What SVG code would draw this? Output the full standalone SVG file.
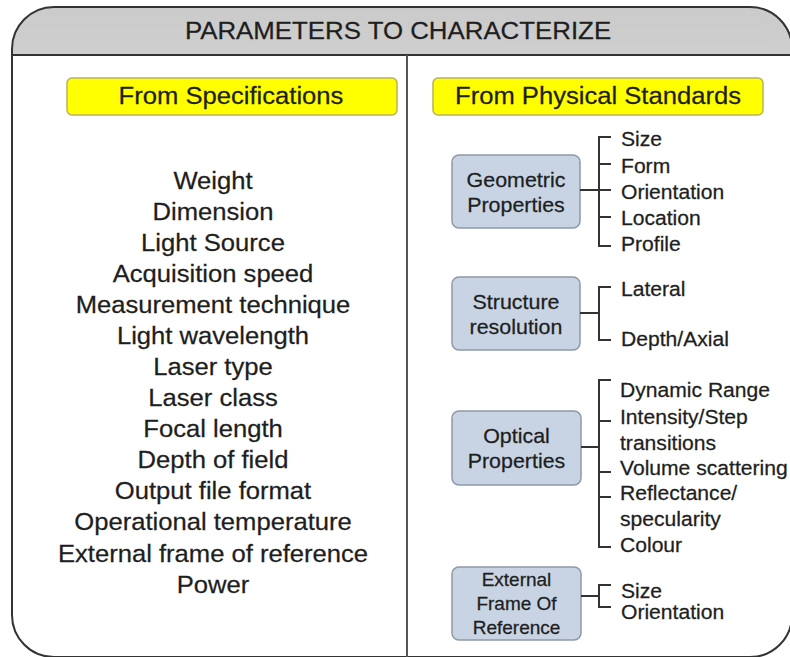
<svg xmlns="http://www.w3.org/2000/svg" width="790" height="657" viewBox="0 0 790 657">
<defs>
<linearGradient id="hdr" x1="0" y1="0" x2="0" y2="1">
<stop offset="0" stop-color="#cbcbcb"/>
<stop offset="1" stop-color="#f6f6f6"/>
</linearGradient>
<clipPath id="hclip"><rect x="12" y="7" width="780" height="48"/></clipPath>
</defs>
<style>
text{font-family:"Liberation Sans",Arial,Helvetica,sans-serif;fill:#1e1e1e;stroke:#1e1e1e;stroke-width:0.25}
.t{font-size:24.6px;text-anchor:middle}
.l{font-size:24.4px;text-anchor:middle}
.y{font-size:24.4px;text-anchor:middle}
.b{font-size:20.4px;text-anchor:middle}
.bs{font-size:18.1px;text-anchor:middle}
.i{font-size:20.1px}
.yel{fill:#ffff00;stroke:#b9b25a;stroke-width:1.5}
.blu{fill:#c8d4e3;stroke:#8d99a8;stroke-width:1.5}
.c{fill:none;stroke:#333;stroke-width:2}
</style>
<rect width="790" height="657" fill="#ffffff"/>
<g id="frame">
<rect x="12" y="7" width="780" height="650" rx="42" ry="42" fill="url(#hdr)" clip-path="url(#hclip)"/>
<rect x="12" y="7" width="780" height="650" rx="42" ry="42" fill="none" stroke="#333" stroke-width="2"/>
<line x1="12" y1="55" x2="792" y2="55" stroke="#333" stroke-width="2"/>
<line x1="407" y1="55" x2="407" y2="657" stroke="#555" stroke-width="2"/>
</g>
<g id="title">
<text class="t" transform="translate(398 38.5) scale(1.05 1)">PARAMETERS TO CHARACTERIZE</text>
</g>
<g id="from-specifications">
<rect class="yel" x="67" y="78" width="330" height="37" rx="5"/>
<text class="y" transform="translate(231 103.5) scale(1.05 1)">From Specifications</text>
</g>
<g id="spec-list">
<text class="l" transform="translate(213 188.5) scale(1.05 1)">Weight</text>
<text class="l" transform="translate(213 219.6) scale(1.05 1)">Dimension</text>
<text class="l" transform="translate(213 250.7) scale(1.05 1)">Light Source</text>
<text class="l" transform="translate(213 281.7) scale(1.05 1)">Acquisition speed</text>
<text class="l" transform="translate(213 312.8) scale(1.05 1)">Measurement technique</text>
<text class="l" transform="translate(213 343.9) scale(1.05 1)">Light wavelength</text>
<text class="l" transform="translate(213 375) scale(1.05 1)">Laser type</text>
<text class="l" transform="translate(213 406.1) scale(1.05 1)">Laser class</text>
<text class="l" transform="translate(213 437.1) scale(1.05 1)">Focal length</text>
<text class="l" transform="translate(213 468.2) scale(1.05 1)">Depth of field</text>
<text class="l" transform="translate(213 499.3) scale(1.05 1)">Output file format</text>
<text class="l" transform="translate(213 530.4) scale(1.05 1)">Operational temperature</text>
<text class="l" transform="translate(213 561.5) scale(1.05 1)">External frame of reference</text>
<text class="l" transform="translate(213 592.5) scale(1.05 1)">Power</text>
</g>
<g id="from-physical-standards">
<rect class="yel" x="433" y="78" width="330" height="37" rx="5"/>
<text class="y" transform="translate(598 103.5) scale(1.05 1)">From Physical Standards</text>
</g>
<g id="geometric">
<rect class="blu" x="452" y="155" width="128" height="73" rx="7"/>
<text class="b" transform="translate(516 186.5) scale(1.05 1)">Geometric</text>
<text class="b" transform="translate(516 211.5) scale(1.05 1)">Properties</text>
<text class="i" transform="translate(621 146) scale(1.05 1)">Size</text>
<text class="i" transform="translate(621 172.5) scale(1.05 1)">Form</text>
<text class="i" transform="translate(621 198.5) scale(1.05 1)">Orientation</text>
<text class="i" transform="translate(621 224.5) scale(1.05 1)">Location</text>
<text class="i" transform="translate(621 250.5) scale(1.05 1)">Profile</text>
</g>
<g id="structure">
<rect class="blu" x="452" y="277" width="128" height="73" rx="7"/>
<text class="b" transform="translate(516 308.5) scale(1.05 1)">Structure</text>
<text class="b" transform="translate(516 333.5) scale(1.05 1)">resolution</text>
<text class="i" transform="translate(621 295.5) scale(1.05 1)">Lateral</text>
<text class="i" transform="translate(621 345.5) scale(1.05 1)">Depth/Axial</text>
</g>
<g id="optical">
<rect class="blu" x="452" y="411" width="129" height="74" rx="7"/>
<text class="b" transform="translate(516.5 443) scale(1.05 1)">Optical</text>
<text class="b" transform="translate(516.5 468) scale(1.05 1)">Properties</text>
<text class="i" transform="translate(620 397) scale(1.05 1)">Dynamic Range</text>
<text class="i" transform="translate(620 424) scale(1.05 1)">Intensity/Step</text>
<text class="i" transform="translate(620 449.5) scale(1.05 1)">transitions</text>
<text class="i" transform="translate(620 474.5) scale(1.05 1)">Volume scattering</text>
<text class="i" transform="translate(620 500) scale(1.05 1)">Reflectance/</text>
<text class="i" transform="translate(620 525.5) scale(1.05 1)">specularity</text>
<text class="i" transform="translate(620 552) scale(1.05 1)">Colour</text>
</g>
<g id="external">
<rect class="blu" x="452" y="567" width="129" height="73" rx="7"/>
<text class="bs" transform="translate(516.5 586) scale(1.05 1)">External</text>
<text class="bs" transform="translate(516.5 610) scale(1.05 1)">Frame Of</text>
<text class="bs" transform="translate(516.5 634) scale(1.05 1)">Reference</text>
<text class="i" transform="translate(621 597.5) scale(1.05 1)">Size</text>
<text class="i" transform="translate(621 618.5) scale(1.05 1)">Orientation</text>
</g>
<g id="connectors">
<path class="c" d="M611 137H599V246H611M599 164H611M580 190H611M599 217H611"/>
<path class="c" d="M611 287H599V340H611M580 313H599"/>
<path class="c" d="M611 380H599V547H611M599 421H611M599 472H611M599 497H611M581 447H599"/>
<path class="c" d="M611 585H599V607H611M581 596H599"/>
</g>
</svg>
